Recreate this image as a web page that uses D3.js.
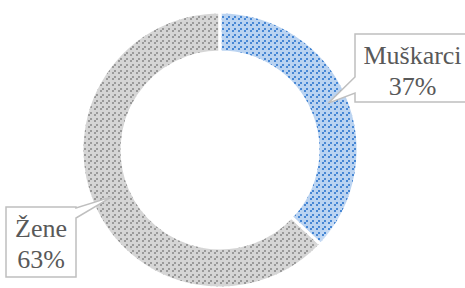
<!DOCTYPE html>
<html><head><meta charset="utf-8">
<script src="https://cdn.jsdelivr.net/npm/d3@7"></script>
<style>html,body{margin:0;padding:0;background:#fff;}svg{display:block;}</style>
</head><body>
<svg id="c" width="465" height="288"></svg>
<script>
const categories = ["Muškarci", "Žene"];
const values = [37, 63];
const percentLabels = ["37%", "63%"];

const W = 465, H = 288, cx = 220, cy = 150, rOuter = 138, rInner = 98;
const svg = d3.select("#c");
const defs = svg.append("defs");

const styles = [
  {bgIn:"#c4daf4", bgMid:"#e2edfb", bgOut:"#bad3f1", dash:"#4787d4"},
  {bgIn:"#d9d9d9", bgMid:"#f1f1f1", bgOut:"#d5d5d5", dash:"#9a9a9a"}
];
// dashed upward-diagonal pattern cells (2px blocks): 3 x 3 blocks per tile
const cells = [];
for (let i = 0; i < 3; i++) for (let j = 0; j < 3; j++)
  if ((i + j) % 3 === 0 && i % 3 !== 2) cells.push([i, j]);

styles.forEach((s,i)=>{
  const g = defs.append("radialGradient").attr("id","g"+i)
    .attr("gradientUnits","userSpaceOnUse").attr("cx",cx).attr("cy",cy).attr("r",rOuter);
  g.append("stop").attr("offset",rInner/rOuter).attr("stop-color",s.bgIn);
  g.append("stop").attr("offset",(rInner/rOuter+1)/2).attr("stop-color",s.bgMid);
  g.append("stop").attr("offset",1).attr("stop-color",s.bgOut);
  const p = defs.append("pattern").attr("id","p"+i).attr("patternUnits","userSpaceOnUse")
    .attr("width",6).attr("height",6);
  cells.forEach(([a,b])=>p.append("rect").attr("x",a*2).attr("y",b*2)
    .attr("width",2).attr("height",2).attr("fill",s.dash));
});

const pie = d3.pie().sort(null).value(d=>d)(values);
const arc = d3.arc().innerRadius(rInner).outerRadius(rOuter);
const g = svg.append("g").attr("transform",`translate(${cx},${cy})`);
g.selectAll("path.bg").data(pie).join("path").attr("class","bg").attr("d",arc)
  .attr("fill",(d,i)=>`url(#g${i})`);
g.selectAll("path.pt").data(pie).join("path").attr("class","pt").attr("d",arc)
  .attr("fill",(d,i)=>`url(#p${i})`).attr("stroke","#fff").attr("stroke-width",3);

// callouts
const boxes = [
  {x:355, y:34, w:116, h:68, side:"left", a:77, b:93},
  {x:6, y:207, w:70, h:70, side:"right", a:208, b:218}
];
pie.forEach((d,i)=>{
  const c = arc.centroid(d);
  const tx = cx + c[0], ty = cy + c[1];
  const b = boxes[i];
  let path;
  if (b.side==="left") {
    path = `M${b.x},${b.y}H${b.x+b.w}V${b.y+b.h}H${b.x}V${b.b}L${tx},${ty}L${b.x},${b.a}Z`;
  } else {
    const r = b.x+b.w;
    path = `M${b.x},${b.y}H${r}V${b.a}L${tx},${ty}L${r},${b.b}V${b.y+b.h}H${b.x}Z`;
  }
  svg.append("path").attr("d",path).attr("fill","#fff").attr("stroke","#bfbfbf").attr("stroke-width",1.5);
  const t = svg.append("text").attr("font-family","'Liberation Serif', 'Times New Roman', serif")
    .attr("font-size",26).attr("fill","#595959").attr("text-anchor","middle");
  const mx = b.x + (i===0 ? 57.5 : b.w/2);
  t.append("tspan").attr("x",mx).attr("y",b.y+30).text(categories[i]);
  t.append("tspan").attr("x",mx).attr("y",b.y+61).text(percentLabels[i]);
});
</script>
</body></html>
